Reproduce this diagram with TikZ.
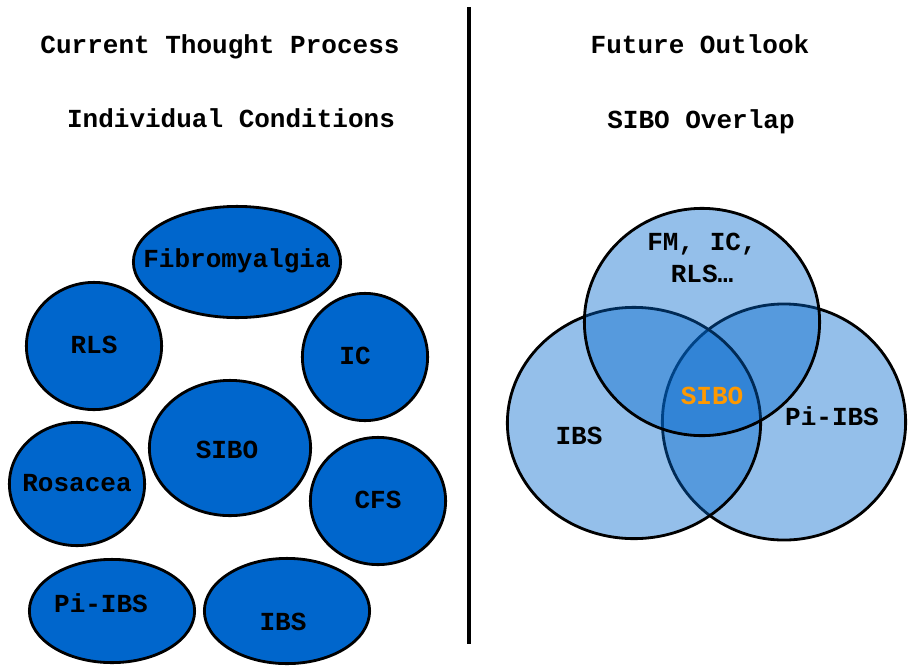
\documentclass[tikz,border=0pt]{standalone}
\usepackage{fontspec}
\setmainfont{Liberation Mono}
\usetikzlibrary{shapes.geometric,calc}

\definecolor{condblue}{RGB}{0,102,204}
\definecolor{siboorange}{RGB}{255,153,0}

\tikzset{
  lbl/.style={font=\bfseries\fontsize{18.5}{22.5}\selectfont, text height=10.5pt, text depth=0pt, inner sep=0pt},
  cond/.style={ellipse, draw=black, line width=2pt, fill=condblue, inner sep=0pt},
  venn/.style={ellipse, draw=black, line width=2pt, fill=condblue, fill opacity=0.42, inner sep=0pt},
}

\begin{document}
\begin{tikzpicture}[x=0.025cm,y=-0.025cm]
\useasboundingbox (0,0) rectangle (908,666);

% headings
\node[lbl] (curr) at (220,46) {Current Thought Process};
\node[lbl] (indiv) at (231,120) {Individual Conditions};
\node[lbl] (future) at (700,46) {Future Outlook};
\node[lbl] (overlap) at (701,121) {SIBO Overlap};

% divider
\draw[line width=3.2pt] (469,7) -- (469,644);

% left side: separate conditions
\node[cond, minimum width=5.18cm, minimum height=2.78cm] (fibro) at (237,262) {};
\node[lbl] at ($(fibro)+(0,-2)$) {Fibromyalgia};
\node[cond, minimum width=3.38cm, minimum height=3.18cm] (rls) at (94,346) {};
\node[lbl] at (rls) {RLS};
\node[cond, minimum width=3.13cm, minimum height=3.18cm] (ic) at (365,357) {};
\node[lbl] at ($(ic)+(-10,0)$) {IC};
\node[cond, minimum width=4.03cm, minimum height=3.38cm] (sibo) at (230,448) {};
\node[lbl] at ($(sibo)+(-3,3)$) {SIBO};
\node[cond, minimum width=3.38cm, minimum height=3.08cm] (rosacea) at (77,484) {};
\node[lbl] at (rosacea) {Rosacea};
\node[cond, minimum width=3.38cm, minimum height=3.18cm] (cfs) at (378,501) {};
\node[lbl] at (cfs) {CFS};
\node[cond, minimum width=4.13cm, minimum height=2.58cm] (piibsL) at (112,611) {};
\node[lbl] at ($(piibsL)+(-11,-6)$) {Pi-IBS};
\node[cond, minimum width=4.13cm, minimum height=2.63cm] (ibsL) at (287,611) {};
\node[lbl] at ($(ibsL)+(-4,12)$) {IBS};

% right side: overlap
\node[venn, minimum width=6.08cm, minimum height=5.9cm] (piibsR) at (784,422) {};
\node[venn, minimum width=6.33cm, minimum height=5.78cm] (ibsR) at (634,423) {};
\node[venn, minimum width=5.88cm, minimum height=5.68cm] (fm) at (702,322) {};
\node[lbl, align=center] at ($(fm)+(0,-47)$) {FM, IC,\\RLS…};
\node[lbl, text=siboorange] (siboR) at (712,397) {SIBO};
\node[lbl] at ($(ibsR)+(-55,14)$) {IBS};
\node[lbl] at ($(piibsR)+(48,-4)$) {Pi-IBS};
\end{tikzpicture}
\end{document}
